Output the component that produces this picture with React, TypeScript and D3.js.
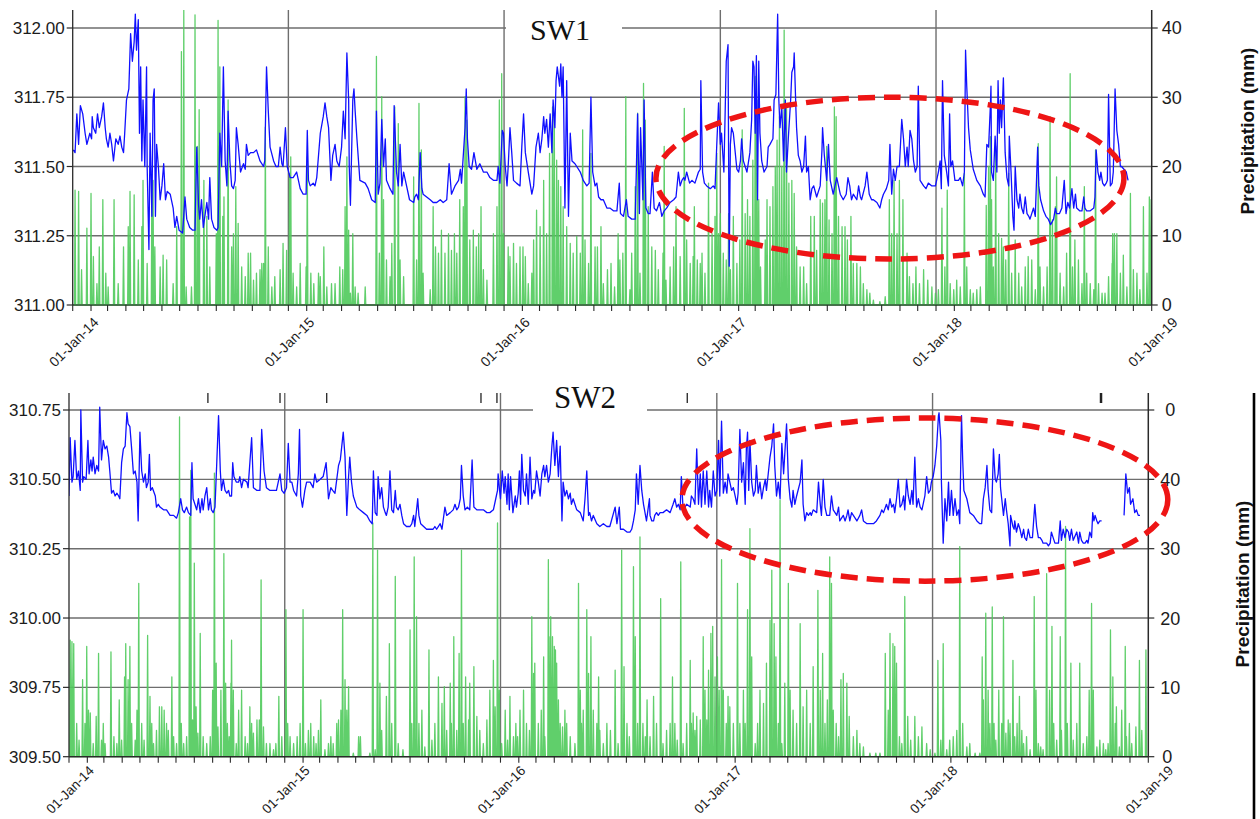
import React from "react";
import * as d3 from "d3";

const START = Date.UTC(2014, 0, 1);
const END = Date.UTC(2019, 0, 1);
const DAY = 86400000;

const sw1LevelTicks = [311, 311.25, 311.5, 311.75, 312];
const sw1PrecipTicks = [0, 10, 20, 30, 40];
const sw1PrecipTickLabels = ["0", "10", "20", "30", "40"];
const sw2LevelTicks = [309.5, 309.75, 310, 310.25, 310.5, 310.75];
const sw2PrecipTicks = [0, 10, 20, 30, 40, 50];
const sw2PrecipTickLabels = ["0", "10", "20", "30", "40", "0"];
const panelTitles = ["SW1", "SW2"];
const precipLabel = "Precipitation (mm)";

// highlighted period: [centre day, centre level, half-width (days), half-height (level)]
const sw1Highlight = [1383, 311.458, 396, 0.292];
const sw2Highlight = [1448, 310.427, 411, 0.294];
// small stray marks along the top of SW2 (day offsets)
const sw2TopMarks = [235, 357, 436, 697, 724, 1046, 1746];

// water level, [day since 01-Jan-14, level (m)]
const sw1Level = [
1,311.56, 4,311.55, 7,311.69, 10,311.58, 13,311.72, 17,311.69, 21,311.62, 24,311.58, 29,311.62, 32,311.60, 33,311.68, 35,311.64, 39,311.62, 42,311.69, 45,311.64, 49,311.68, 52,311.73, 55,311.64, 57,311.60, 60,311.57, 63,311.62, 66,311.58, 69,311.52, 73,311.60, 77,311.58, 80,311.61, 83,311.57, 86,311.55, 88,311.62, 91,311.74, 95,311.78, 98,311.98, 101,311.88, 104,311.95, 106,312.05, 108,311.92, 111,312.03, 113,311.62, 115,311.86, 117,311.52, 119,311.74, 122,311.50, 125,311.86, 126,311.50, 129,311.20, 131,311.62, 134,311.32, 136,311.74, 138,311.78, 140,311.32, 142,311.58, 145,311.50, 148,311.38, 151,311.43, 154,311.51, 157,311.38, 160,311.41, 165,311.40, 170,311.35, 173,311.28, 176,311.32, 180,311.27, 186,311.26, 190,311.39, 193,311.31, 198,311.28, 203,311.27, 207,311.27, 210,311.57, 213,311.36, 215,311.31, 218,311.38, 221,311.28, 227,311.37, 230,311.31, 232,311.46, 235,311.31, 239,311.28, 244,311.27, 246,311.28, 249,311.62, 252,311.50, 255,311.86, 258,311.52, 261,311.43, 263,311.70, 266,311.52, 269,311.43, 272,311.42, 275,311.45, 277,311.64, 280,311.58, 284,311.48, 289,311.51, 292,311.49, 294,311.58, 297,311.54, 301,311.55, 306,311.55, 311,311.56, 317,311.52, 323,311.50, 325,311.52, 328,311.86, 331,311.70, 334,311.57, 340,311.52, 344,311.50, 348,311.50, 351,311.57, 354,311.51, 356,311.50, 360,311.64, 363,311.50, 368,311.46, 373,311.46, 379,311.48, 385,311.42, 390,311.40, 395,311.40, 397,311.63, 399,311.45, 402,311.43, 407,311.44, 410,311.43, 413,311.46, 419,311.62, 424,311.68, 427,311.73, 430,311.68, 433,311.64, 437,311.45, 440,311.54, 444,311.58, 447,311.52, 451,311.50, 455,311.57, 458,311.70, 461,311.60, 464,311.91, 467,311.74, 468,311.50, 470,311.36, 474,311.74, 476,311.78, 478,311.70, 481,311.60,
486,311.45, 495,311.44, 500,311.42, 506,311.38, 512,311.37, 514,311.70, 517,311.40, 520,311.44, 523,311.67, 526,311.50, 529,311.60, 531,311.45, 537,311.42, 542,311.40, 544,311.72, 548,311.48, 551,311.43, 554,311.58, 557,311.43, 560,311.48, 562,311.46, 565,311.43, 570,311.38, 577,311.37, 579,311.39, 582,311.40, 585,311.38, 588,311.55, 591,311.42, 593,311.40, 599,311.39, 605,311.38, 610,311.37, 616,311.37, 622,311.38, 627,311.37, 633,311.38, 637,311.51, 641,311.40, 647,311.43, 653,311.45, 656,311.49, 658,311.44, 664,311.64, 666,311.78, 668,311.60, 671,311.50, 675,311.49, 679,311.55, 684,311.49, 689,311.51, 695,311.48, 701,311.48, 706,311.46, 712,311.45, 718,311.45, 720,311.50, 723,311.44, 727,311.63, 729,311.62, 732,311.50, 735,311.43, 737,311.50, 740,311.64, 743,311.55, 746,311.45, 751,311.44, 757,311.43, 760,311.57, 763,311.69, 766,311.55, 771,311.48, 777,311.40, 780,311.43, 784,311.57, 788,311.62, 791,311.55, 794,311.60, 797,311.68, 799,311.62, 802,311.67, 805,311.57, 808,311.69, 811,311.55, 813,311.74, 816,311.64, 818,311.81, 820,311.86, 824,311.79, 826,311.87, 828,311.75, 830,311.86, 833,311.35, 836,311.81, 839,311.32, 842,311.62, 845,311.52, 850,311.51, 853,311.50, 859,311.48, 864,311.45, 870,311.43, 874,311.44, 877,311.75, 880,311.48, 884,311.43, 887,311.44, 890,311.39, 894,311.38, 898,311.38, 904,311.35, 909,311.35, 915,311.34, 921,311.34, 925,311.44, 927,311.33, 932,311.32, 937,311.38, 940,311.32, 946,311.31, 952,311.31, 956,311.69, 959,311.33, 961,311.64, 965,311.38, 967,311.74, 970,311.35, 974,311.33,
977,311.33, 981,311.48, 984,311.35, 988,311.34, 993,311.37, 997,311.32, 1001,311.34, 1005,311.35, 1011,311.37, 1017,311.38, 1021,311.39, 1025,311.48, 1028,311.43, 1031,311.45, 1034,311.46, 1036,311.45, 1039,311.48, 1044,311.44, 1048,311.45, 1053,311.44, 1059,311.48, 1062,311.49, 1063,311.81, 1066,311.48, 1069,311.44, 1073,311.43, 1079,311.42, 1084,311.43, 1087,311.42, 1090,311.58, 1093,311.73, 1096,311.58, 1098,311.62, 1102,311.48, 1106,311.88, 1109,311.94, 1111,311.14, 1113,311.58, 1115,311.64, 1118,311.62, 1124,311.49, 1127,311.48, 1130,311.52, 1132,311.60, 1135,311.52, 1141,311.48, 1146,311.55, 1149,311.67, 1151,311.88, 1153,311.86, 1155,311.62, 1157,311.90, 1159,311.38, 1161,311.88, 1163,311.62, 1166,311.52, 1170,311.48, 1175,311.50, 1177,311.57, 1180,311.58, 1185,311.60, 1187,311.74, 1190,311.76, 1193,312.05, 1195,311.74, 1197,311.64, 1200,311.72, 1203,311.52, 1206,311.74, 1208,311.48, 1211,311.60, 1215,311.74, 1217,311.84, 1220,311.86, 1221,311.91, 1224,311.70, 1225,311.64, 1228,311.54, 1231,311.52, 1234,311.48, 1237,311.50, 1240,311.61, 1242,311.48, 1245,311.50, 1248,311.38, 1251,311.42, 1254,311.43, 1259,311.39, 1265,311.43, 1268,311.56, 1269,311.64, 1272,311.54, 1276,311.45, 1279,311.58, 1282,311.45, 1287,311.40, 1293,311.46, 1296,311.43, 1299,311.40, 1304,311.38, 1309,311.40, 1312,311.46, 1315,311.43, 1318,311.38, 1321,311.40, 1327,311.38, 1330,311.43, 1333,311.39, 1335,311.38, 1341,311.43, 1344,311.48, 1348,311.40, 1352,311.38, 1355,311.38, 1361,311.37, 1366,311.35, 1369,311.38, 1372,311.40, 1377,311.42, 1381,311.45, 1383,311.58, 1386,311.40, 1389,311.49, 1392,311.45, 1395,311.50, 1399,311.50, 1403,311.67, 1406,311.60, 1409,311.50, 1412,311.57, 1414,311.50, 1417,311.63, 1420,311.60, 1423,311.52, 1426,311.48, 1429,311.50, 1431,311.79, 1434,311.45, 1440,311.43, 1444,311.42, 1448,311.44, 1454,311.43, 1460,311.43, 1465,311.48,
1468,311.52, 1470,311.42, 1472,311.81, 1475,311.54, 1479,311.48, 1482,311.43, 1484,311.69, 1486,311.50, 1489,311.52, 1493,311.45, 1499,311.45, 1502,311.46, 1506,311.43, 1509,311.48, 1511,311.92, 1513,311.79, 1516,311.64, 1519,311.56, 1524,311.49, 1530,311.45, 1536,311.43, 1541,311.40, 1544,311.39, 1547,311.58, 1550,311.57, 1553,311.72, 1554,311.79, 1555,311.48, 1558,311.45, 1561,311.61, 1564,311.48, 1566,311.81, 1568,311.62, 1570,311.74, 1572,311.64, 1575,311.82, 1578,311.55, 1581,311.46, 1584,311.43, 1585,311.61, 1588,311.48, 1591,311.32, 1593,311.27, 1595,311.50, 1598,311.38, 1601,311.35, 1603,311.40, 1606,311.35, 1609,311.33, 1612,311.39, 1615,311.33, 1618,311.32, 1620,311.31, 1626,311.35, 1629,311.32, 1633,311.57, 1635,311.43, 1638,311.38, 1643,311.34, 1647,311.32, 1651,311.31, 1655,311.29, 1660,311.31, 1663,311.35, 1665,311.33, 1670,311.33, 1674,311.35, 1678,311.45, 1681,311.33, 1684,311.37, 1687,311.35, 1691,311.42, 1694,311.35, 1697,311.40, 1699,311.35, 1704,311.34, 1708,311.34, 1711,311.39, 1713,311.35, 1716,311.34, 1722,311.34, 1728,311.35, 1730,311.39, 1732,311.56, 1735,311.48, 1738,311.45, 1740,311.48, 1743,311.44, 1746,311.43, 1749,311.44, 1751,311.45, 1753,311.76, 1756,311.43, 1759,311.44, 1761,311.48, 1764,311.78, 1767,311.63, 1770,311.58, 1773,311.50, 1775,311.50, 1779,311.49, 1783,311.48, 1786,311.45,
];

// daily precipitation events, [day, mm]
const sw1Precip = [
4,16.6, 10,16.4, 15,5.1, 24,11.1, 31,16.1, 35,7.0, 41,3.1, 45,8.4, 51,15.2, 56,4.6, 60,2.6, 70,15.2, 77,3.1, 86,8.4, 94,11.3, 97,16.4, 104,15.9, 111,6.5, 117,11.3, 119,18.0, 126,6.0, 134,18.0, 136,18.0, 139,8.4, 148,5.5, 153,7.2, 159,6.5, 170,3.1, 176,11.3, 184,36.6, 188,42.6, 192,2.6, 201,2.6, 207,41.9, 211,22.9, 214,28.2, 222,18.0, 227,12.8, 232,5.5, 243,10.3, 246,41.1, 249,34.4, 254,12.8, 256,15.6, 263,29.6, 269,8.4, 272,10.3, 276,17.1, 280,11.8, 286,5.5, 292,4.1, 297,7.5, 301,7.5, 306,3.6, 311,4.6, 317,5.1, 320,6.0, 323,6.0, 326,25.7, 331,8.4, 337,2.6, 342,4.1, 351,5.1, 356,8.9, 362,7.9, 367,19.0, 369,21.4, 373,4.6, 379,2.6, 385,6.0, 395,5.5, 397,21.4, 403,4.6, 408,3.1, 416,4.6, 419,4.1, 425,8.4, 430,2.6, 438,3.1, 444,3.1, 452,5.5, 457,5.1, 461,14.2, 464,21.4, 467,10.8, 470,1.7, 474,10.3, 478,2.6, 483,1.7,
495,2.6, 514,35.9, 519,7.5, 523,30.1, 526,15.2, 531,6.5, 537,4.1, 540,8.9, 545,28.6, 551,26.2, 554,6.5, 560,4.1, 577,18.5, 582,6.5, 586,29.1, 590,22.4, 593,4.6, 605,2.2, 610,14.2, 614,8.4, 619,7.5, 624,10.8, 630,7.5, 636,10.3, 641,7.9, 646,10.3, 650,7.5, 655,15.2, 661,14.2, 664,30.1, 667,26.7, 672,9.4, 678,10.8, 683,8.4, 687,10.3, 691,14.2, 695,5.1, 701,3.6, 712,10.3, 718,14.2, 722,29.6, 726,33.4, 729,10.3, 737,8.4, 740,7.0, 746,8.9, 751,6.0, 757,8.4, 762,8.4, 766,7.0, 771,3.1, 777,4.6, 780,9.4, 785,13.7, 791,11.3, 797,18.0, 802,10.3, 807,21.9, 812,28.6, 815,27.2, 819,20.9, 822,18.0, 826,17.1, 830,14.2, 836,11.3, 842,8.9, 847,7.5, 853,9.9, 859,7.5, 863,25.3, 867,9.4, 873,6.0, 877,21.9, 884,8.4, 888,8.4, 894,11.3, 898,3.1, 905,5.1, 911,6.0, 917,2.6, 923,10.3, 926,6.5, 931,7.5, 936,30.1, 943,2.2, 946,7.5, 952,17.1, 956,27.7, 960,4.6, 966,32.0, 969,26.7, 974,14.2,
980,8.4, 986,7.9, 991,5.1, 999,7.5, 1001,22.9, 1004,3.6, 1011,5.5, 1017,8.4, 1021,14.2, 1028,7.0, 1035,28.4, 1039,9.4, 1045,6.0, 1050,7.0, 1052,14.2, 1057,6.5, 1062,6.0, 1065,7.5, 1070,4.6, 1076,17.6, 1082,10.3, 1087,12.8, 1090,21.9, 1093,10.3, 1096,13.2, 1101,7.5, 1106,6.5, 1110,13.2, 1113,5.1, 1118,12.8, 1124,6.0, 1129,9.4, 1133,25.3, 1138,13.2, 1142,15.2, 1146,12.8, 1151,20.9, 1155,33.0, 1158,29.6, 1161,15.2, 1164,5.5, 1172,9.4, 1175,15.2, 1180,14.2, 1185,17.1, 1189,20.0, 1192,23.8, 1196,27.2, 1200,20.0, 1204,39.7, 1208,28.6, 1212,17.6, 1217,18.0, 1221,16.1, 1225,8.4, 1231,5.5, 1237,5.5, 1242,3.1, 1249,12.8, 1255,12.8, 1259,7.9, 1265,15.2, 1269,14.7, 1273,15.2, 1276,22.9, 1280,12.3, 1285,10.3, 1289,28.6, 1292,27.2, 1296,12.8, 1302,11.3, 1307,11.3, 1311,9.4, 1317,12.8, 1321,6.0, 1327,6.0, 1333,5.5, 1338,3.1, 1344,2.2, 1349,1.7, 1355,0.7, 1366,0.5, 1375,1.2, 1382,15.2, 1386,10.3, 1390,18.0, 1395,10.3, 1399,18.0, 1405,15.2, 1412,7.5, 1416,4.1, 1422,3.1, 1427,5.5, 1433,3.1, 1440,5.1, 1447,3.6, 1454,2.6, 1460,1.7, 1465,2.2,
1471,14.0, 1476,5.5, 1480,16.6, 1485,3.1, 1491,2.2, 1496,3.6, 1502,2.6, 1509,19.0, 1513,5.5, 1519,2.2, 1524,1.7, 1530,2.2, 1536,2.6, 1546,14.4, 1550,20.0, 1553,24.3, 1555,15.2, 1558,5.5, 1562,22.9, 1567,10.3, 1572,9.6, 1575,8.4, 1579,6.5, 1584,19.0, 1589,4.6, 1595,9.4, 1601,4.6, 1606,2.6, 1612,5.5, 1617,7.0, 1623,6.5, 1629,2.2, 1634,23.3, 1637,5.5, 1643,2.6, 1649,5.5, 1654,27.2, 1658,12.3, 1663,14.2, 1665,18.5, 1671,4.6, 1677,2.6, 1682,7.5, 1688,33.4, 1692,5.5, 1696,9.4, 1702,6.5, 1708,3.1, 1712,17.1, 1716,4.6, 1722,3.1, 1728,2.2, 1731,22.4, 1736,3.1, 1742,1.7, 1747,1.7, 1753,4.1, 1759,6.0, 1760,10.3, 1763,10.3, 1767,10.3, 1773,4.6, 1778,7.2, 1784,2.6, 1790,16.1, 1795,5.1, 1801,4.6, 1806,2.2, 1812,14.2, 1818,4.6, 1822,15.6, 1825,15.2,
];

const sw2Level = [
0,310.44, 2,310.65, 5,310.49, 7,310.51, 10,310.64, 13,310.50, 16,310.53, 19,310.46, 20,310.75, 23,310.49, 25,310.51, 29,310.50, 32,310.64, 34,310.52, 37,310.57, 39,310.53, 41,310.58, 44,310.52, 47,310.55, 50,310.53, 52,310.76, 55,310.57, 58,310.64, 61,310.61, 64,310.62, 67,310.58, 69,310.53, 72,310.45, 75,310.46, 78,310.44, 81,310.45, 84,310.44, 86,310.43, 89,310.56, 92,310.61, 95,310.62, 98,310.74, 100,310.70, 103,310.69, 106,310.61, 109,310.52, 112,310.53, 115,310.49, 117,310.35, 120,310.67, 123,310.53, 126,310.49, 129,310.52, 131,310.47, 134,310.49, 136,310.59, 138,310.46, 141,310.47, 146,310.44, 148,310.40, 151,310.41, 154,310.40, 160,310.39, 165,310.39, 171,310.37, 177,310.37, 182,310.36, 185,310.38, 189,310.43, 192,310.39, 195,310.38, 199,310.40, 202,310.38, 206,310.37, 208,310.56, 210,310.43, 213,310.41, 216,310.39, 219,310.43, 222,310.38, 225,310.43, 227,310.39, 230,310.44, 233,310.47, 236,310.39, 239,310.43, 241,310.39, 244,310.38, 247,310.40, 250,310.56, 253,310.73, 256,310.53, 258,310.46, 261,310.50, 264,310.46, 267,310.45, 270,310.46, 272,310.44, 275,310.44, 277,310.56, 279,310.51, 283,310.49, 287,310.49, 289,310.51, 292,310.47, 295,310.50, 301,310.49, 303,310.47, 309,310.65, 312,310.47, 318,310.46, 323,310.46, 326,310.68, 330,310.53, 334,310.47, 340,310.46, 346,310.46, 351,310.46, 354,310.49, 357,310.52, 360,310.46, 364,310.45, 368,310.47, 371,310.63, 374,310.49, 377,310.49, 380,310.46, 385,310.44, 388,310.52, 390,310.68, 392,310.44, 395,310.40, 399,310.46, 402,310.49, 408,310.49, 413,310.47, 416,310.52, 419,310.49, 425,310.50, 430,310.51, 435,310.56, 437,310.50, 439,310.43, 443,310.47, 446,310.46, 450,310.45, 453,310.50, 456,310.55, 459,310.57, 461,310.61, 464,310.67, 467,310.58, 470,310.37, 473,310.51, 475,310.58, 478,310.49, 481,310.44, 487,310.40, 492,310.39,
498,310.38, 504,310.37, 509,310.35, 513,310.34, 515,310.53, 518,310.38, 521,310.37, 523,310.51, 526,310.43, 529,310.47, 532,310.40, 535,310.38, 537,310.37, 540,310.40, 543,310.53, 546,310.39, 549,310.38, 552,310.46, 554,310.40, 557,310.39, 560,310.41, 563,310.37, 566,310.34, 571,310.33, 577,310.33, 580,310.34, 583,310.37, 585,310.33, 588,310.39, 590,310.43, 592,310.37, 595,310.34, 600,310.33, 605,310.32, 611,310.32, 616,310.32, 619,310.33, 622,310.32, 628,310.34, 631,310.32, 636,310.40, 639,310.37, 645,310.38, 650,310.39, 653,310.41, 656,310.39, 659,310.40, 662,310.43, 664,310.55, 667,310.44, 670,310.39, 674,310.40, 678,310.39, 682,310.57, 685,310.40, 690,310.39, 695,310.39, 701,310.39, 707,310.38, 712,310.38, 718,310.39, 722,310.43, 725,310.46, 726,310.52, 728,310.47, 730,310.43, 733,310.53, 736,310.45, 738,310.51, 741,310.41, 743,310.52, 745,310.39, 747,310.51, 751,310.38, 755,310.44, 757,310.40, 760,310.45, 762,310.53, 764,310.41, 766,310.59, 769,310.46, 772,310.44, 774,310.52, 777,310.41, 780,310.58, 783,310.43, 786,310.46, 788,310.45, 791,310.53, 794,310.49, 797,310.44, 800,310.52, 803,310.55, 805,310.51, 808,310.55, 811,310.49, 814,310.52, 817,310.62, 819,310.67, 822,310.55, 825,310.64, 828,310.51, 831,310.62, 834,310.35, 836,310.49, 839,310.44, 842,310.46, 845,310.43, 848,310.45, 850,310.41, 853,310.43, 859,310.39, 865,310.38, 870,310.35, 873,310.43, 876,310.53, 879,310.37, 881,310.38, 884,310.35, 887,310.37, 893,310.34, 898,310.33, 904,310.34, 910,310.33, 915,310.33, 924,310.40, 927,310.34, 931,310.40, 933,310.32, 938,310.32, 944,310.31, 949,310.31, 952,310.32, 955,310.35, 958,310.39, 960,310.52, 963,310.41, 966,310.55, 969,310.46, 972,310.41, 977,310.35, 982,310.43,
983,310.37, 986,310.35, 989,310.35, 991,310.37, 994,310.38, 997,310.37, 1000,310.38, 1005,310.38, 1011,310.39, 1017,310.38, 1022,310.41, 1025,310.43, 1028,310.40, 1031,310.41, 1034,310.39, 1036,310.51, 1039,310.39, 1042,310.40, 1045,310.41, 1051,310.40, 1053,310.44, 1056,310.43, 1059,310.41, 1062,310.61, 1065,310.41, 1068,310.52, 1070,310.40, 1073,310.53, 1076,310.41, 1079,310.53, 1082,310.40, 1084,310.46, 1087,310.40, 1090,310.53, 1093,310.44, 1096,310.46, 1099,310.64, 1101,310.44, 1104,310.71, 1107,310.45, 1110,310.49, 1113,310.45, 1115,310.52, 1118,310.49, 1121,310.46, 1124,310.47, 1127,310.44, 1130,310.41, 1132,310.45, 1135,310.68, 1138,310.49, 1141,310.56, 1144,310.41, 1146,310.61, 1148,310.67, 1150,310.46, 1152,310.64, 1155,310.49, 1158,310.44, 1161,310.46, 1163,310.55, 1166,310.45, 1169,310.49, 1172,310.43, 1175,310.47, 1178,310.50, 1180,310.46, 1183,310.52, 1186,310.58, 1189,310.62, 1192,310.70, 1194,310.55, 1197,310.44, 1200,310.49, 1203,310.43, 1206,310.63, 1209,310.52, 1214,310.70, 1217,310.50, 1220,310.43, 1223,310.40, 1225,310.46, 1228,310.41, 1231,310.44, 1237,310.49, 1240,310.57, 1242,310.41, 1245,310.35, 1248,310.38, 1251,310.37, 1254,310.38, 1256,310.37, 1259,310.39, 1265,310.38, 1268,310.49, 1271,310.41, 1273,310.37, 1276,310.50, 1279,310.40, 1282,310.37, 1287,310.37, 1290,310.44, 1293,310.39, 1299,310.37, 1302,310.40, 1304,310.35, 1310,310.37, 1313,310.35, 1316,310.37, 1318,310.39, 1321,310.35, 1324,310.38, 1327,310.37, 1333,310.35, 1338,310.37, 1341,310.39, 1344,310.35, 1350,310.34, 1355,310.34, 1361,310.34, 1366,310.35, 1372,310.37, 1375,310.39, 1378,310.38, 1383,310.41, 1386,310.39, 1389,310.43, 1392,310.40, 1395,310.41, 1397,310.38, 1400,310.43, 1403,310.50, 1406,310.40, 1409,310.41, 1412,310.44, 1414,310.39, 1417,310.50, 1420,310.44, 1423,310.41, 1426,310.46, 1428,310.41, 1431,310.58, 1434,310.40, 1437,310.43, 1440,310.40, 1443,310.39, 1445,310.41, 1448,310.44, 1451,310.51, 1454,310.45, 1457,310.46, 1459,310.49, 1462,310.51, 1465,310.55, 1468,310.62, 1471,310.73,
1472,310.74, 1475,310.64, 1476,310.49, 1479,310.27, 1482,310.43, 1485,310.35, 1488,310.49, 1490,310.37, 1493,310.46, 1496,310.37, 1499,310.43, 1502,310.37, 1505,310.39, 1507,310.34, 1510,310.73, 1512,310.57, 1514,310.46, 1519,310.43, 1524,310.38, 1530,310.37, 1536,310.35, 1541,310.34, 1544,310.34, 1547,310.43, 1550,310.47, 1553,310.55, 1555,310.46, 1558,310.39, 1561,310.38, 1564,310.61, 1567,310.50, 1569,310.49, 1572,310.52, 1574,310.59, 1576,310.47, 1578,310.43, 1581,310.37, 1584,310.43, 1586,310.39, 1589,310.34, 1592,310.26, 1593,310.37, 1597,310.33, 1599,310.32, 1600,310.35, 1603,310.31, 1606,310.34, 1609,310.32, 1612,310.29, 1615,310.32, 1617,310.29, 1620,310.28, 1623,310.32, 1626,310.29, 1630,310.29, 1634,310.41, 1637,310.33, 1640,310.29, 1643,310.29, 1646,310.28, 1648,310.27, 1654,310.27, 1657,310.26, 1660,310.27, 1662,310.31, 1665,310.29, 1668,310.27, 1671,310.27, 1674,310.27, 1677,310.35, 1679,310.28, 1682,310.32, 1685,310.29, 1688,310.32, 1691,310.31, 1693,310.28, 1696,310.32, 1699,310.28, 1705,310.31, 1708,310.27, 1710,310.31, 1713,310.28, 1716,310.27, 1719,310.27, 1722,310.28, 1724,310.27, 1727,310.31, 1730,310.29, 1732,310.38, 1734,310.35, 1736,310.37, 1739,310.35, 1741,310.34, 1744,310.35, 1747,310.35,
1765,null,
1785,310.37, 1788,310.52, 1791,310.45, 1794,310.47, 1796,310.41, 1800,310.43, 1803,310.38, 1806,310.39, 1809,310.37, 1812,310.37,
];

const sw2Precip = [
2,16.8, 5,16.6, 8,16.3, 13,4.8, 17,2.4, 23,11.1, 27,4.8, 30,15.9, 33,6.7, 36,6.3, 41,1.9, 46,5.8, 50,14.9, 55,2.4, 58,4.8, 61,1.9, 71,15.1, 76,2.9, 81,1.9, 85,8.2, 89,2.4, 94,11.5, 96,16.3, 100,11.1, 103,15.9, 106,4.8, 112,2.4, 115,6.7, 118,25.0, 123,4.8, 127,2.4, 133,17.5, 137,8.7, 140,4.8, 143,1.9, 148,3.8, 153,7.2, 157,7.2, 161,6.7, 165,4.8, 168,3.8, 174,11.5, 177,2.9, 182,1.9, 187,49.0, 190,4.8, 194,1.9, 199,2.9, 204,34.6, 206,41.3, 209,5.3, 212,27.9, 215,7.2, 218,3.4, 222,17.8, 227,2.9, 233,1.9, 239,2.9, 243,9.6, 246,40.9, 249,13.5, 252,4.3, 257,9.6, 262,29.3, 265,10.6, 268,4.8, 271,2.9, 274,10.6, 275,16.8, 278,9.6, 283,1.9, 287,6.7, 292,9.6, 298,2.9, 302,1.9, 306,7.2, 309,4.8, 312,3.4, 318,5.3, 322,5.3, 325,25.5, 329,4.3, 334,1.9, 340,1.9, 346,1.0, 350,1.9, 355,8.7, 360,2.9, 367,21.2, 370,4.8, 374,2.9, 380,1.9, 386,2.9, 391,4.8, 396,21.2, 400,1.9, 405,3.8, 409,4.8, 414,2.9, 418,1.9, 422,3.8, 426,8.2, 433,1.0, 439,1.9, 443,2.9, 447,1.9, 453,4.8, 456,5.3, 460,6.7, 463,21.2, 467,11.1, 470,6.7, 473,10.1, 481,0.5, 490,2.9,
493,2.9, 509,0.5, 514,33.7, 518,1.0, 522,29.8, 526,10.6, 529,3.8, 537,8.7, 542,16.3, 546,4.8, 552,26.0, 557,1.9, 565,1.0, 577,18.3, 580,4.8, 584,28.8, 588,20.2, 592,4.8, 597,6.7, 602,1.4, 609,15.4, 614,2.4, 619,4.8, 625,11.5, 631,7.7, 635,10.1, 639,3.8, 645,10.6, 647,4.8, 651,17.3, 656,3.8, 660,14.9, 664,29.8, 667,4.8, 671,11.5, 676,5.3, 678,10.6, 685,13.0, 690,5.8, 695,3.8, 701,1.9, 707,5.3, 712,9.6, 718,13.9, 721,7.2, 725,33.7, 728,9.6, 732,1.9, 738,6.7, 742,2.4, 746,8.7, 752,2.9, 756,4.8, 759,2.9, 763,6.7, 769,9.6, 774,4.8, 779,3.8, 783,20.2, 786,12.0, 788,13.5, 794,4.8, 799,6.7, 803,14.4, 805,2.9, 811,28.4, 814,17.3, 815,20.2, 818,17.3, 821,15.9, 823,15.4, 825,13.5, 828,8.2, 831,4.8, 835,4.3, 839,6.7, 842,4.8, 848,2.9, 856,1.9, 862,25.0, 865,9.6, 867,4.8, 870,6.7, 876,21.2, 879,12.0, 883,17.3, 887,6.7, 893,4.8, 896,11.5, 898,3.8, 904,1.9, 910,4.8, 916,3.8, 924,12.5, 929,1.9, 935,29.8, 939,13.0, 944,4.8, 948,2.9, 955,27.4, 958,17.3, 962,4.8, 966,31.7, 971,4.8, 975,2.9,
978,8.2, 983,2.9, 989,8.7, 994,4.8, 1001,22.8, 1005,1.9, 1011,3.8, 1017,4.8, 1021,11.5, 1025,4.8, 1029,2.4, 1035,28.1, 1039,1.9, 1045,4.8, 1051,13.9, 1053,4.8, 1056,6.3, 1059,3.8, 1062,5.8, 1068,5.3, 1073,17.3, 1076,9.6, 1079,5.3, 1082,12.5, 1086,17.8, 1089,18.8, 1093,11.5, 1097,14.4, 1100,9.6, 1104,28.4, 1107,9.6, 1112,4.8, 1115,8.7, 1118,7.2, 1124,4.8, 1131,25.0, 1135,4.8, 1141,9.6, 1144,4.8, 1148,21.2, 1152,32.9, 1155,14.4, 1161,1.9, 1165,4.8, 1169,9.6, 1175,7.7, 1180,13.5, 1186,19.7, 1189,26.9, 1193,19.2, 1196,14.4, 1200,4.8, 1203,37.0, 1206,1.9, 1211,10.6, 1217,25.0, 1220,9.6, 1225,6.7, 1231,4.8, 1237,19.2, 1242,7.2, 1248,9.6, 1254,4.8, 1259,13.0, 1267,24.0, 1271,9.6, 1275,14.9, 1279,4.8, 1283,8.2, 1287,28.8, 1290,25.0, 1293,6.7, 1298,4.8, 1302,2.9, 1306,11.1, 1310,12.0, 1316,10.6, 1320,5.8, 1327,2.9, 1333,3.8, 1338,1.9, 1344,1.4, 1355,0.5, 1365,0.5, 1372,0.5, 1381,14.9, 1386,6.7, 1389,17.8, 1394,16.3, 1397,15.9, 1400,13.5, 1405,2.9, 1409,1.9, 1414,23.1, 1419,5.8, 1424,2.4, 1431,5.8, 1437,2.9, 1443,4.3, 1451,1.9, 1457,1.0, 1465,0.5, 1470,13.9,
1475,2.4, 1479,16.3, 1485,1.0, 1490,2.4, 1496,2.9, 1502,3.8, 1507,30.3, 1512,4.8, 1519,1.4, 1524,1.9, 1533,0.5, 1541,0.5, 1545,14.4, 1547,8.2, 1551,20.7, 1555,9.6, 1558,4.8, 1562,21.6, 1565,4.8, 1568,2.4, 1573,9.6, 1578,4.8, 1581,20.2, 1585,3.4, 1589,5.3, 1592,4.8, 1597,13.9, 1600,2.9, 1604,4.8, 1608,8.7, 1612,3.8, 1615,1.9, 1620,2.9, 1626,1.0, 1633,23.1, 1636,9.6, 1640,1.9, 1644,1.4, 1648,1.0, 1654,26.4, 1659,9.6, 1663,18.8, 1666,4.8, 1671,2.4, 1677,17.3, 1679,3.8, 1686,33.2, 1689,4.8, 1695,13.5, 1699,2.4, 1705,4.8, 1710,13.5, 1716,1.9, 1722,2.9, 1726,9.6, 1730,22.1, 1733,9.6, 1739,1.4, 1744,2.4, 1750,1.9, 1754,1.0, 1758,1.9, 1762,18.3, 1766,11.5, 1770,4.8, 1772,7.2, 1777,1.4, 1781,6.7, 1787,15.9, 1789,2.9, 1794,4.8, 1798,1.9, 1805,4.3, 1811,13.9, 1815,3.8, 1822,15.4,
];

function toPairs(a: (number | null)[]): [number, number | null][] {
  const out: [number, number | null][] = [];
  for (let i = 0; i < a.length; i += 2) out.push([a[i] as number, a[i + 1]]);
  return out;
}

const SANS = "'Liberation Sans', Arial, Helvetica, sans-serif";
const SERIF = "'Liberation Serif', 'Times New Roman', serif";

function Panel({ cfg }: { cfg: any }) {
  const x = d3.scaleUtc().domain([new Date(START), new Date(END)]).range([cfg.x0, cfg.x1]);
  const xd = (d: number) => x(new Date(START + d * DAY));
  const yL = d3.scaleLinear().domain(cfg.levelDomain).range([cfg.yBase, cfg.yRef]);
  const yP = d3.scaleLinear().domain(cfg.precipDomain).range([cfg.yBase, cfg.yRef]);
  const years = d3.utcYear.range(new Date(START), new Date(END + DAY));
  const months = d3.utcMonth.range(new Date(START), new Date(END + DAY));
  const fmt = d3.utcFormat("%d-%b-%y");
  const lf = d3.format(".2f");

  const lvl = toPairs(cfg.level);
  const lvlLine = d3
    .line<[number, number | null]>()
    .defined((d) => d[1] != null)
    .x((d) => xd(d[0]))
    .y((d) => yL(d[1] as number));

  const pp = toPairs(cfg.precip).sort((a, b) => a[0] - b[0]);
  const spikes: [number, number][] = [[0, 0]];
  pp.forEach(([d, v]) => {
    spikes.push([d - 1, 0], [d, v as number], [d + 1, 0]);
  });
  spikes.push([1826, 0]);
  const pLine = d3
    .line<[number, number]>()
    .x((d) => xd(d[0]))
    .y((d) => yP(d[1]));

  const h = cfg.highlight;
  const ecx = xd(h[0]);
  const ecy = yL(h[1]);
  const erx = xd(h[0] + h[2]) - ecx;
  const ery = yL(h[1] - h[3]) - ecy;

  const clipId = "clip-" + cfg.id;
  const grid = "#6e6e6e";
  const axis = "#2a2a2a";

  return (
    <g>
      <defs>
        <clipPath id={clipId}>
          <rect x={cfg.x0} y={cfg.yTop} width={cfg.x1 - cfg.x0} height={cfg.yBase - cfg.yTop + 1} />
        </clipPath>
      </defs>
      {cfg.levelTicks.map((t: number) => (
        <line key={"h" + t} x1={cfg.x0} x2={cfg.x1} y1={yL(t)} y2={yL(t)} stroke={grid} strokeWidth={1.4} />
      ))}
      {years.slice(1, -1).map((yr) => (
        <line key={"v" + yr.getTime()} x1={x(yr)} x2={x(yr)} y1={cfg.yTop} y2={cfg.yBase} stroke={grid} strokeWidth={1.4} />
      ))}
      <rect x={cfg.gap[0]} y={cfg.gapY[0]} width={cfg.gap[1] - cfg.gap[0]} height={cfg.gapY[1] - cfg.gapY[0]} fill="#fff" />
      <text x={cfg.titleX} y={cfg.titleY} fontFamily={SERIF} fontSize={cfg.titleSize} textAnchor="middle" fill="#111">
        {cfg.title}
      </text>
      <g clipPath={`url(#${clipId})`}>
        <path d={pLine(spikes) || ""} fill="none" stroke="#4fca5b" strokeWidth={1.3} strokeOpacity={0.9} strokeLinejoin="round" />
        <path d={lvlLine(lvl) || ""} fill="none" stroke="#1010ff" strokeWidth={1.3} strokeLinejoin="round" />
      </g>
      <line x1={cfg.x0} x2={cfg.x0} y1={cfg.yTop} y2={cfg.yBase} stroke={axis} strokeWidth={1.3} />
      {cfg.levelTicks.map((t: number) => (
        <g key={"lt" + t}>
          <line x1={cfg.x0 - 6} x2={cfg.x0} y1={yL(t)} y2={yL(t)} stroke={axis} strokeWidth={1.2} />
          <text x={cfg.x0 - 8} y={yL(t)} dy="0.36em" textAnchor="end" fontFamily={SANS} fontSize={17} fill="#1c1c1c">
            {lf(t)}
          </text>
        </g>
      ))}
      <line x1={cfg.x1} x2={cfg.x1} y1={cfg.yTop} y2={cfg.yBase} stroke={axis} strokeWidth={1.5} />
      {cfg.precipTicks.map((t: number, i: number) => (
        <g key={"rt" + t}>
          <line x1={cfg.x1} x2={cfg.x1 + 6} y1={yP(t)} y2={yP(t)} stroke={axis} strokeWidth={1.2} />
          <text x={cfg.x1 + cfg.rightLabelDx[i]} y={yP(t)} dy="0.36em" textAnchor="start" fontFamily={SANS} fontSize={18} fill="#1c1c1c">
            {cfg.precipLabels[i]}
          </text>
        </g>
      ))}
      <line x1={cfg.x0} x2={cfg.x1} y1={cfg.yBase} y2={cfg.yBase} stroke={axis} strokeWidth={1.2} />
      {months.map((m) => (
        <line key={"m" + m.getTime()} x1={x(m)} x2={x(m)} y1={cfg.yBase} y2={cfg.yBase + 6} stroke={axis} strokeWidth={1.1} />
      ))}
      {years.map((yr) => (
        <text
          key={"yl" + yr.getTime()}
          transform={`translate(${x(yr) + 1},${cfg.yBase + cfg.dateDy}) rotate(-45)`}
          textAnchor="middle"
          dy="0.35em"
          fontFamily={SANS}
          fontSize={cfg.dateSize}
          fill="#1c1c1c"
        >
          {fmt(yr)}
        </text>
      ))}
      {(cfg.marks || []).map((d: number, i: number) => (
        <line key={"mk" + i} x1={xd(d)} x2={xd(d)} y1={cfg.yTop} y2={cfg.yTop + 10} stroke="#222" strokeWidth={i === cfg.marks.length - 1 ? 2.5 : 1.3} />
      ))}
      <text
        transform={`translate(${cfg.labelX},${cfg.labelY}) rotate(-90)`}
        textAnchor="middle"
        fontFamily={SANS}
        fontWeight="bold"
        fontSize={19}
        fill="#111"
      >
        {precipLabel}
      </text>
      {cfg.rightBar && (
        <line x1={cfg.rightBar} x2={cfg.rightBar} y1={cfg.yTop} y2={819} stroke="#000" strokeWidth={2.6} />
      )}
      <ellipse cx={ecx} cy={ecy} rx={erx} ry={ery} fill="none" stroke="#ee1515" strokeWidth={5.5} strokeDasharray="17 9" />
    </g>
  );
}

export default function App() {
  const top = {
    id: "sw1",
    x0: 72.7,
    x1: 1151.7,
    yTop: 10,
    yBase: 305,
    yRef: 28,
    levelDomain: [311, 312],
    precipDomain: [0, 40],
    levelTicks: sw1LevelTicks,
    precipTicks: sw1PrecipTicks,
    precipLabels: sw1PrecipTickLabels,
    rightLabelDx: [10, 10, 10, 10, 10],
    level: sw1Level,
    precip: sw1Precip,
    highlight: sw1Highlight,
    title: panelTitles[0],
    titleX: 560,
    titleY: 40,
    titleSize: 30,
    gap: [506, 622],
    gapY: [14, 44],
    labelX: 1254,
    labelY: 131,
    dateDy: 37,
    dateSize: 14,
  };
  const bottom = {
    id: "sw2",
    x0: 69,
    x1: 1148.3,
    yTop: 393,
    yBase: 756.7,
    yRef: 410,
    levelDomain: [309.5, 310.75],
    precipDomain: [0, 50],
    levelTicks: sw2LevelTicks,
    precipTicks: sw2PrecipTicks,
    precipLabels: sw2PrecipTickLabels,
    rightLabelDx: [14, 12, 12, 12, 12, 17],
    level: sw2Level,
    precip: sw2Precip,
    highlight: sw2Highlight,
    title: panelTitles[1],
    titleX: 585,
    titleY: 408,
    titleSize: 31,
    gap: [533, 647],
    gapY: [394, 424],
    labelX: 1249,
    labelY: 584,
    marks: sw2TopMarks,
    rightBar: 1254,
    dateDy: 33,
    dateSize: 13.5,
  };
  return (
    <svg
      width={1260}
      height={819}
      viewBox="0 0 1260 819"
      style={{ position: "absolute", left: 0, top: 0, display: "block", background: "#fff" }}
    >
      <rect x={0} y={0} width={1260} height={819} fill="#fff" />
      <Panel cfg={top} />
      <Panel cfg={bottom} />
    </svg>
  );
}
